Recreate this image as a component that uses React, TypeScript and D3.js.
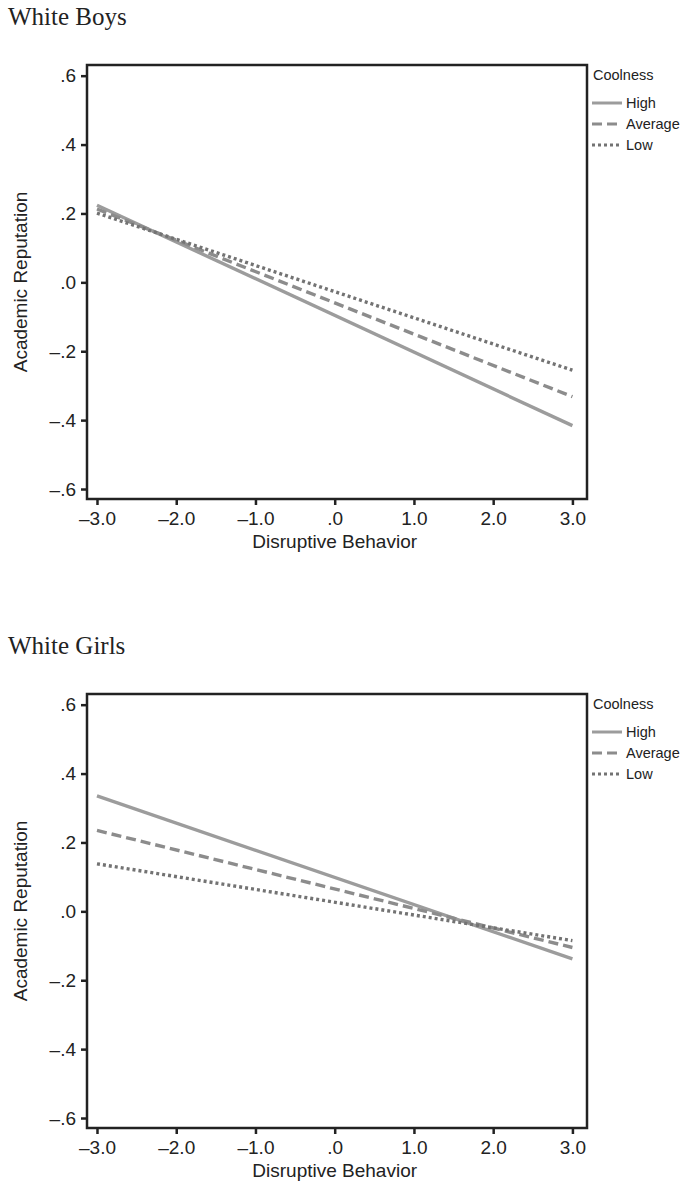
import React, { useEffect, useRef } from 'react';
import * as d3 from 'd3';

// x values where the simple slopes are evaluated
const xPoints = [-3, 3];

// White Boys
const boysHigh = [0.224, -0.416];
const boysAverage = [0.213, -0.332];
const boysLow = [0.201, -0.255];

// White Girls
const girlsHigh = [0.335, -0.138];
const girlsAverage = [0.235, -0.105];
const girlsLow = [0.138, -0.085];

const xTicks = [-3, -2, -1, 0, 1, 2, 3];
const xTickLabels = ['\u20133.0', '\u20132.0', '\u20131.0', '.0', '1.0', '2.0', '3.0'];
const yTicks = [0.6, 0.4, 0.2, 0, -0.2, -0.4, -0.6];
const yTickLabels = ['.6', '.4', '.2', '.0', '\u2013.2', '\u2013.4', '\u2013.6'];

const seriesNames = ['High', 'Average', 'Low'];
const panelTitles = ['White Boys', 'White Girls'];

const styles = [
  { color: '#9c9c9c', dash: null },
  { color: '#8c8c8c', dash: '10,5' },
  { color: '#737373', dash: '3,3' },
];

const sans = '"Liberation Sans", Arial, sans-serif';
const serif = '"Liberation Serif", "Times New Roman", serif';

const drawPanel = (svg, title, series, offsetY) => {
  const g = svg.append('g').attr('transform', `translate(0,${offsetY})`);

  const left = 87, right = 587, top = 65, bottom = 499;
  const x = d3.scaleLinear().domain([-3.126, 3.184]).range([left, right]);
  const y = d3.scaleLinear().domain([-0.629, 0.631]).range([bottom, top]);

  g.append('text')
    .attr('x', 8).attr('y', 25)
    .attr('font-family', serif).attr('font-size', 25)
    .attr('fill', '#222')
    .text(title);

  // axes
  const yAxis = g.append('g')
    .attr('transform', `translate(${left},0)`)
    .call(d3.axisLeft(y).tickValues(yTicks).tickSize(6).tickPadding(5)
      .tickFormat((d, i) => yTickLabels[i]));
  const xAxis = g.append('g')
    .attr('transform', `translate(0,${bottom})`)
    .call(d3.axisBottom(x).tickValues(xTicks).tickSize(6).tickPadding(7)
      .tickFormat((d, i) => xTickLabels[i]));
  [yAxis, xAxis].forEach(a => {
    a.select('.domain').remove();
    a.selectAll('line').attr('stroke', '#222').attr('stroke-width', 2.5);
    a.selectAll('text').attr('font-family', sans).attr('font-size', 19).attr('fill', '#222');
  });

  // frame
  g.append('rect')
    .attr('x', left).attr('y', top)
    .attr('width', right - left).attr('height', bottom - top)
    .attr('fill', 'none').attr('stroke', '#222').attr('stroke-width', 2.5);

  const line = d3.line().x(d => x(d[0])).y(d => y(d[1]));
  series.forEach((vals, i) => {
    g.append('path')
      .datum(xPoints.map((xv, j) => [xv, vals[j]]))
      .attr('d', line)
      .attr('fill', 'none')
      .attr('stroke', styles[i].color)
      .attr('stroke-width', 3.4)
      .attr('stroke-dasharray', styles[i].dash);
  });

  g.append('text')
    .attr('transform', `translate(22,${(top + bottom) / 2}) rotate(-90)`)
    .attr('text-anchor', 'middle').attr('dominant-baseline', 'middle')
    .attr('font-family', sans).attr('font-size', 19).attr('fill', '#222')
    .text('Academic Reputation');

  g.append('text')
    .attr('x', x(0)).attr('y', 548)
    .attr('text-anchor', 'middle')
    .attr('font-family', sans).attr('font-size', 19).attr('fill', '#222')
    .text('Disruptive Behavior');

  // legend
  g.append('text')
    .attr('x', 593).attr('y', 80)
    .attr('font-family', sans).attr('font-size', 14.5).attr('fill', '#222')
    .text('Coolness');
  seriesNames.forEach((name, i) => {
    const ly = 103 + i * 21;
    g.append('line')
      .attr('x1', 592).attr('x2', 622).attr('y1', ly).attr('y2', ly)
      .attr('stroke', styles[i].color).attr('stroke-width', 3)
      .attr('stroke-dasharray', styles[i].dash);
    g.append('text')
      .attr('x', 626).attr('y', ly + 5)
      .attr('font-family', sans).attr('font-size', 14.5).attr('fill', '#222')
      .text(name);
  });
};

const App = () => {
  const ref = useRef(null);
  useEffect(() => {
    const svg = d3.select(ref.current);
    svg.selectAll('*').remove();
    drawPanel(svg, panelTitles[0], [boysHigh, boysAverage, boysLow], 0);
    drawPanel(svg, panelTitles[1], [girlsHigh, girlsAverage, girlsLow], 629);
  }, []);
  return (
    <svg ref={ref} width={684} height={1187}
      style={{ position: 'absolute', left: 0, top: 0, background: '#fff' }} />
  );
};

export default App;
